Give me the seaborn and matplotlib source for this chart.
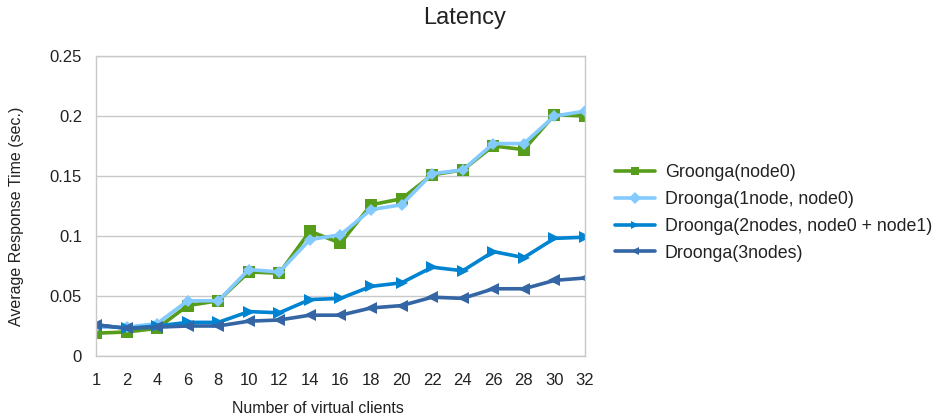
import pandas as pd
import seaborn as sns
from matplotlib import pyplot as plt

clients = ['1', '2', '4', '6', '8', '10', '12', '14', '16', '18', '20', '22', '24', '26', '28', '30', '32']
groonga = [0.019, 0.020, 0.023, 0.042, 0.046, 0.070, 0.069, 0.104, 0.094, 0.126, 0.131, 0.151, 0.155, 0.175, 0.172, 0.201, 0.200]
droonga1 = [0.024, 0.024, 0.027, 0.046, 0.046, 0.072, 0.070, 0.097, 0.101, 0.122, 0.126, 0.152, 0.155, 0.177, 0.177, 0.200, 0.204]
droonga2 = [0.026, 0.023, 0.025, 0.028, 0.028, 0.037, 0.036, 0.047, 0.048, 0.058, 0.061, 0.074, 0.071, 0.087, 0.082, 0.098, 0.099]
droonga3 = [0.026, 0.023, 0.024, 0.025, 0.025, 0.029, 0.030, 0.034, 0.034, 0.040, 0.042, 0.049, 0.048, 0.056, 0.056, 0.063, 0.065]

names = ['Groonga(node0)', 'Droonga(1node, node0)', 'Droonga(2nodes, node0 + node1)', 'Droonga(3nodes)']
series = [groonga, droonga1, droonga2, droonga3]

rows = []
for name, vals in zip(names, series):
    for i, v in enumerate(vals):
        rows.append([name, i, v])
df = pd.DataFrame.from_records(rows, columns=['series', 'pos', 'latency'])

sns.set_style('white')
plt.rcParams['font.family'] = ['Liberation Sans', 'DejaVu Sans']

colors = {names[0]: '#579d1c', names[1]: '#83caff', names[2]: '#0084d1', names[3]: '#3465a4'}
markers = {names[0]: 's', names[1]: 'D', names[2]: '>', names[3]: '<'}

fig = plt.figure(figsize=(9.38, 4.19), dpi=100)
ax = fig.add_axes([0.1023, 0.1504, 0.5214, 0.7160])

sns.lineplot(data=df, x='pos', y='latency', hue='series', style='series',
             palette=colors, markers=markers, dashes=False, linewidth=2.6,
             markersize=8.5, markeredgewidth=0, ax=ax)
# light blue diamonds a bit smaller
for line in ax.lines:
    if line.get_marker() == 'D':
        line.set_markersize(6.5)

ax.set_xlim(0, 16)
ax.set_ylim(0, 0.25)
ax.set_xticks(range(len(clients)))
ax.set_xticklabels(clients)
ax.set_yticks([0, 0.05, 0.1, 0.15, 0.2, 0.25])
ax.set_yticklabels(['0', '0.05', '0.1', '0.15', '0.2', '0.25'])
ax.tick_params(axis='both', labelsize=12, labelcolor='#222222', color='#b3b3b3',
               length=5, width=0.8, direction='out', pad=5)
ax.tick_params(axis='x', pad=7)
ax.yaxis.grid(True, color='#c8c8c8', linewidth=1)
ax.set_axisbelow(True)
for s in ax.spines.values():
    s.set_color('#c8c8c8')
    s.set_linewidth(1)
ax.set_xlabel('')
ax.set_ylabel('')

fig.text(0.495, 0.958, 'Latency', ha='center', va='center', fontsize=17, color='#222222')
fig.text(0.018, 0.484, 'Average Response Time (sec.)', ha='center', va='center',
         rotation=90, fontsize=11.5, color='#222222')
fig.text(0.339, 0.026, 'Number of virtual clients', ha='center', va='center',
         fontsize=11.5, color='#222222')

leg = ax.legend(loc='center left', bbox_to_anchor=(1.061, 0.477), frameon=False,
                fontsize=12.8, handlelength=2.25, labelspacing=0.55, handletextpad=0.56,
                borderpad=0, borderaxespad=0)
for h in leg.legend_handles:
    h.set_markersize(6)
for t in leg.get_texts():
    t.set_color('#222222')

plt.savefig('out.png', dpi=100)
plt.close()
